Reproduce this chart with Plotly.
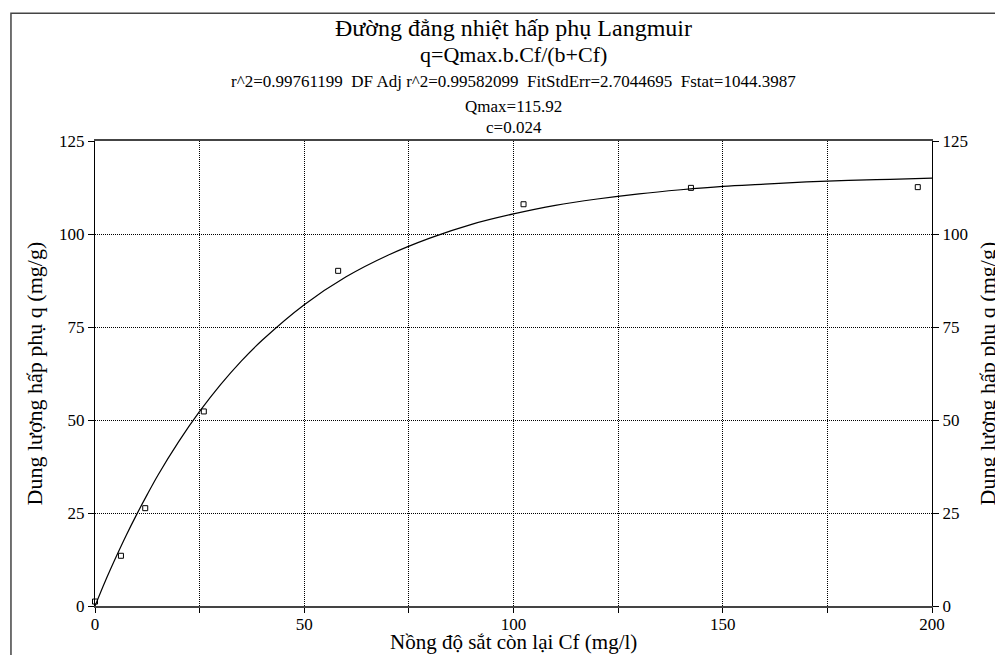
import plotly.graph_objects as go

# measured points (Cf, q)
cf_points = [0, 6.2, 12.0, 26.0, 58.1, 102.4, 142.4, 196.6]
q_points = [1.2, 13.5, 26.3, 52.3, 90.1, 108.0, 112.4, 112.6]

# fitted curve
cf_curve = [0, 2.5, 5, 7.5, 10, 12.5, 15, 20, 25, 30, 35, 40, 50, 60, 70,
            80, 90, 100, 110, 120, 130, 140, 150, 160, 170, 180, 190, 200]
q_curve = [0, 6.8, 13.1, 19.1, 24.7, 30.0, 35.1, 44.2, 52.3, 59.5, 65.9, 71.5,
           81.0, 88.5, 94.3, 98.9, 102.6, 105.4, 107.7, 109.4, 110.8, 111.9,
           112.8, 113.4, 114.0, 114.4, 114.7, 115.0]

GAP = "\u00a0\u00a0"
title_lines = [
    ("Đường đẳng nhiệt hấp phụ Langmuir", 24, 1.243),
    ("q=Qmax.b.Cf/(b+Cf)", 22, 1.185),
    (GAP.join(["r^2=0.99761199", "DF Adj r^2=0.99582099",
               "FitStdErr=2.7044695", "Fstat=1044.3987"]), 17, 1.129),
    ("Qmax=115.92", 17, 1.075),
    ("c=0.024", 17, 1.03),
]

x_title = "Nồng độ sắt còn lại Cf (mg/l)"
y_title = "Dung lượng hấp phụ q (mg/g)"

FONT = "Liberation Serif"

fig = go.Figure()
fig.add_trace(go.Scatter(x=cf_curve, y=q_curve, mode="lines",
                         line=dict(color="black", width=1.2, shape="spline"),
                         showlegend=False, hoverinfo="skip"))
fig.add_trace(go.Scatter(x=cf_points, y=q_points, mode="markers",
                         marker=dict(symbol="square-open", size=5,
                                     color="black", line=dict(width=1)),
                         showlegend=False, cliponaxis=False))
# invisible trace to carry the right-hand axis
fig.add_trace(go.Scatter(x=[0], y=[0], yaxis="y2", mode="markers",
                         marker=dict(opacity=0), showlegend=False,
                         hoverinfo="skip"))

for text, size, ypos in title_lines:
    fig.add_annotation(text=text, x=0.5, y=ypos, xref="paper", yref="paper",
                       xanchor="center", yanchor="middle", showarrow=False,
                       font=dict(family=FONT, size=size, color="black"))

# axis titles
fig.add_annotation(text=x_title, x=0.5, y=-0.078, xref="paper", yref="paper",
                   xanchor="center", yanchor="middle", showarrow=False,
                   font=dict(family=FONT, size=21, color="black"))
fig.add_annotation(text=y_title, x=-0.0717, y=0.5, xref="paper", yref="paper",
                   xanchor="center", yanchor="middle", showarrow=False,
                   textangle=-90, font=dict(family=FONT, size=22, color="black"))
fig.add_annotation(text=y_title, x=1.0669, y=0.5, xref="paper", yref="paper",
                   xanchor="center", yanchor="middle", showarrow=False,
                   textangle=-90, font=dict(family=FONT, size=22, color="black"))

# outer frame of the original graphic
fig.add_shape(type="rect", xref="paper", yref="paper",
              x0=-0.1004, x1=1.3, y0=-0.5, y1=1.275,
              line=dict(color="#444", width=1.5), layer="below")

grid = dict(showgrid=True, gridcolor="black", gridwidth=1, griddash="1px,1px")

# page has an 8px body margin, so the figure is 8px smaller than the window
fig.update_layout(
    width=995, height=647,
    margin=dict(l=87, r=71, t=133, b=49),
    paper_bgcolor="white", plot_bgcolor="white",
    font=dict(family=FONT, size=17, color="black"),
    xaxis=dict(range=[0, 200], dtick=50, tick0=0, ticks="outside", ticklen=5,
               tickcolor="black", showline=True, linecolor="#444", linewidth=2,
               mirror=True, zeroline=False, ticklabelstandoff=-3,
               tickfont=dict(family=FONT, size=17),
               minor=dict(dtick=25, ticks="outside", ticklen=5, tickcolor="black",
                          **grid),
               **grid),
    yaxis=dict(range=[0, 125], dtick=25, ticks="outside", ticklen=6,
               tickcolor="black", showline=True, linecolor="black", linewidth=1,
               zeroline=False, tickfont=dict(family=FONT, size=17),
               **grid),
    yaxis2=dict(range=[0, 125], dtick=25, ticks="outside", ticklen=6,
                tickcolor="black", overlaying="y", side="right",
                showline=True, linecolor="black", linewidth=1,
                showgrid=False, zeroline=False,
                tickfont=dict(family=FONT, size=17)),
)

fig.write_html("out.html")
